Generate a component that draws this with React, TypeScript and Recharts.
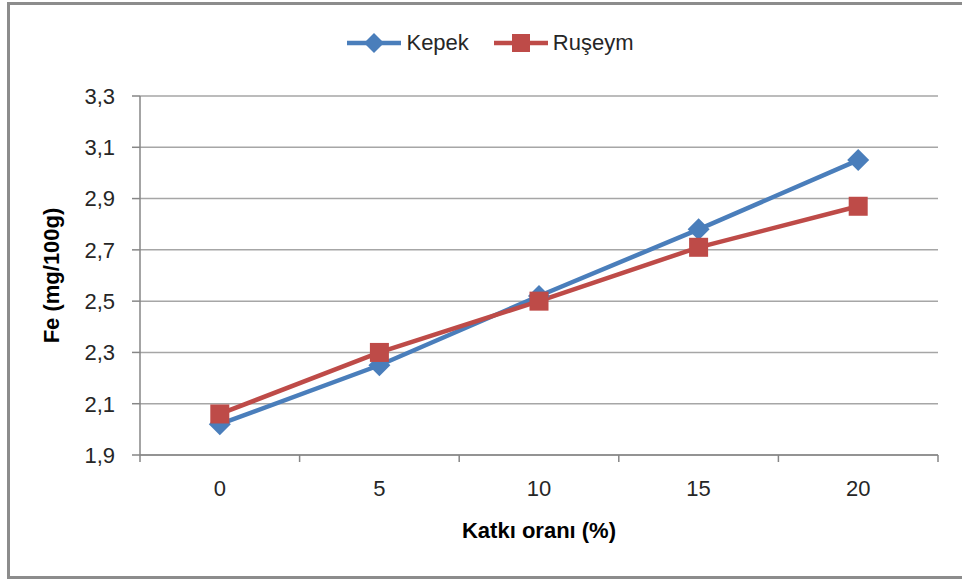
import React from 'react';
import { LineChart, Line, XAxis, YAxis, CartesianGrid, Legend } from 'recharts';

const categories = ['0', '5', '10', '15', '20'];
const kepek = [2.02, 2.25, 2.52, 2.78, 3.05];
const ruseym = [2.06, 2.30, 2.50, 2.71, 2.87];
const yTicks = [1.9, 2.1, 2.3, 2.5, 2.7, 2.9, 3.1, 3.3];

const BLUE = '#4a7ebb';
const RED = '#be4b48';
const AXIS = '#868686';
const GRID = '#a6a6a6';
const FONT = '"Liberation Sans", Arial, sans-serif';

const W = 962;
const H = 581;
const margin = { top: 23, right: 24, bottom: 96, left: 80 };
const yAxisWidth = 60;
const halfBand = (W - margin.left - yAxisWidth - margin.right) / categories.length / 2;

const data = categories.map((c, i) => ({ cat: c, kepek: kepek[i], ruseym: ruseym[i] }));

const Diamond = ({ cx, cy, color, r = 11 }: any) => {
  if (cx == null || cy == null) return null;
  return <path d={`M${cx},${cy - r} L${cx + r},${cy} L${cx},${cy + r} L${cx - r},${cy} Z`} fill={color} />;
};

const Square = ({ cx, cy, color, s = 19 }: any) => {
  if (cx == null || cy == null) return null;
  return <rect x={cx - s / 2} y={cy - s / 2} width={s} height={s} fill={color} />;
};

const XTick = (props: any) => {
  const { x, y, payload, index } = props;
  const axisY = y - 7 - 18;
  return (
    <g>
      <line x1={x - halfBand} x2={x - halfBand} y1={axisY} y2={axisY + 7} stroke={AXIS} strokeWidth={1.5} />
      {index === categories.length - 1 && (
        <line x1={x + halfBand} x2={x + halfBand} y1={axisY} y2={axisY + 7} stroke={AXIS} strokeWidth={1.5} />
      )}
      <text x={x} y={y} dy={16} textAnchor="middle" fill="#262626" fontSize={22} fontFamily={FONT}>
        {payload.value}
      </text>
    </g>
  );
};

const legendItems = [
  { name: 'Kepek', color: BLUE, shape: 'diamond' },
  { name: 'Ruşeym', color: RED, shape: 'square' },
];

const LegendContent = () => (
  <div style={{ height: 73, display: 'flex', justifyContent: 'center', alignItems: 'flex-start', paddingRight: 38 }}>
    {legendItems.map((it, i) => (
      <div
        key={it.name}
        style={{ display: 'flex', alignItems: 'center', height: 40, marginRight: i === 0 ? 24 : 0 }}
      >
        <svg width={56} height={24}>
          <line x1={1} x2={55} y1={12} y2={12} stroke={it.color} strokeWidth={4.5} />
          {it.shape === 'diamond' ? (
            <Diamond cx={28} cy={12} color={it.color} r={10} />
          ) : (
            <Square cx={28} cy={12} color={it.color} s={18} />
          )}
        </svg>
        <span style={{ fontFamily: FONT, fontSize: 22, color: '#262626', marginLeft: 4 }}>{it.name}</span>
      </div>
    ))}
  </div>
);

export default function App() {
  return (
    <div style={{ position: 'absolute', left: 0, top: 0, width: W, height: H, overflow: 'hidden', background: '#fff' }}>
      <div
        style={{
          position: 'absolute',
          left: 7,
          top: 2,
          width: 1000,
          height: 577,
          boxSizing: 'border-box',
          border: '3px solid #8c8c8c',
        }}
      />
      <div style={{ position: 'absolute', left: 0, top: 0 }}>
        <LineChart width={W} height={H} data={data} margin={margin}>
          <CartesianGrid vertical={false} stroke={GRID} strokeWidth={1.5} />
          <XAxis
            dataKey="cat"
            padding={{ left: halfBand, right: halfBand }}
            axisLine={{ stroke: AXIS, strokeWidth: 1.5 }}
            tickLine={false}
            tickSize={7}
            tickMargin={18}
            tick={<XTick />}
            interval={0}
            label={{
              value: 'Katkı oranı (%)',
              position: 'insideBottom',
              offset: -53,
              fill: '#000',
              fontSize: 22,
              fontWeight: 'bold',
              fontFamily: FONT,
            }}
          />
          <YAxis
            width={yAxisWidth}
            domain={[1.9, 3.3]}
            ticks={yTicks}
            interval={0}
            tickFormatter={(v: number) => v.toFixed(1).replace('.', ',')}
            axisLine={{ stroke: AXIS, strokeWidth: 1.5 }}
            tickLine={{ stroke: AXIS, strokeWidth: 1.5 }}
            tickSize={8}
            tickMargin={17}
            tick={{ fill: '#262626', fontSize: 22, fontFamily: FONT }}
            label={{
              value: 'Fe (mg/100g)',
              angle: -90,
              position: 'insideLeft',
              dx: -34,
              fill: '#000',
              fontSize: 22,
              fontWeight: 'bold',
              fontFamily: FONT,
              style: { textAnchor: 'middle' },
            }}
          />
          <Legend verticalAlign="top" align="center" content={<LegendContent />} />
          <Line
            dataKey="kepek"
            name="Kepek"
            stroke={BLUE}
            strokeWidth={4.5}
            isAnimationActive={false}
            dot={(p: any) => <Diamond key={`k${p.index}`} cx={p.cx} cy={p.cy} color={BLUE} />}
          />
          <Line
            dataKey="ruseym"
            name="Ruşeym"
            stroke={RED}
            strokeWidth={4.5}
            isAnimationActive={false}
            dot={(p: any) => <Square key={`r${p.index}`} cx={p.cx} cy={p.cy} color={RED} />}
          />
        </LineChart>
      </div>
    </div>
  );
}
